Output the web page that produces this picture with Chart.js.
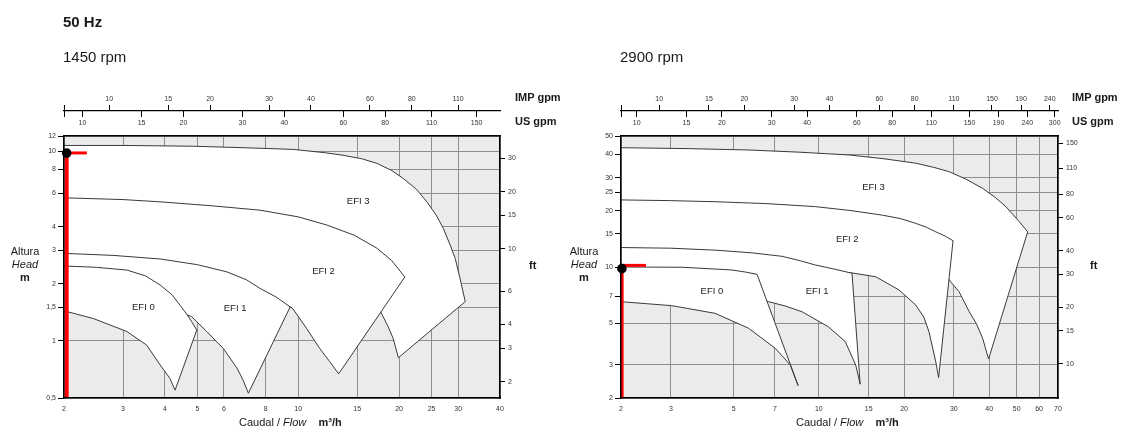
<!DOCTYPE html>
<html><head><meta charset="utf-8">
<script src="https://cdn.jsdelivr.net/npm/chart.js@4/dist/chart.umd.min.js"></script>
<style>
html,body{margin:0;padding:0;background:#fff;}
body{width:1122px;height:429px;position:relative;overflow:hidden;font-family:'Liberation Sans',Arial,sans-serif;color:#1a1a1a;}
canvas{position:absolute;top:0;}
#cL{left:0;} #cR{left:560px;}
.t{position:absolute;white-space:nowrap;line-height:1;}
.ax{position:absolute;width:50px;text-align:center;font-size:11px;line-height:13px;}
</style></head><body>
<canvas id="cL" width="560" height="429"></canvas>
<canvas id="cR" width="562" height="429"></canvas>

<div class="t" style="left:63px;top:14px;font-size:15px;font-weight:bold">50 Hz</div>
<div class="t" style="left:63px;top:49px;font-size:15px">1450 rpm</div>
<div class="t" style="left:620px;top:49px;font-size:15px">2900 rpm</div>

<div class="t" style="left:515px;top:92px;font-size:11px;font-weight:bold">IMP gpm</div>
<div class="t" style="left:515px;top:116px;font-size:11px;font-weight:bold">US gpm</div>
<div class="t" style="left:1072px;top:92px;font-size:11px;font-weight:bold">IMP gpm</div>
<div class="t" style="left:1072px;top:116px;font-size:11px;font-weight:bold">US gpm</div>

<div class="ax" style="left:0px;top:245px">Altura<br><i>Head</i><br><b>m</b></div>
<div class="ax" style="left:559px;top:245px">Altura<br><i>Head</i><br><b>m</b></div>

<div class="t" style="left:529px;top:260px;font-size:11px;font-weight:bold">ft</div>
<div class="t" style="left:1090px;top:260px;font-size:11px;font-weight:bold">ft</div>

<div class="t" style="left:239px;top:417px;font-size:11px">Caudal / <i>Flow</i>&nbsp;&nbsp;&nbsp; <b>m³/h</b></div>
<div class="t" style="left:796px;top:417px;font-size:11px">Caudal / <i>Flow</i>&nbsp;&nbsp;&nbsp; <b>m³/h</b></div>

<script>
// ---------- unit conversions ----------
const M3H_TO_USGPM = 4.4029;
const M3H_TO_IMPGPM = 3.6662;
const M_TO_FT = 3.28084;

// ---------- LEFT chart (1450 rpm) ----------
const L_X_RANGE = [2, 40];
const L_Y_RANGE = [0.5, 12];
const L_X_TICKS = [2, 3, 4, 5, 6, 8, 10, 15, 20, 25, 30, 40];
const L_Y_TICKS = [0.5, 1, 1.5, 2, 3, 4, 6, 8, 10, 12];
const L_Y_LABELS = ['0,5', '1', '1,5', '2', '3', '4', '6', '8', '10', '12'];
const L_FT_TICKS = [2, 3, 4, 6, 10, 15, 20, 30];
const L_IMP_TICKS = [10, 15, 20, 30, 40, 60, 80, 110];
const L_US_TICKS = [10, 15, 20, 30, 40, 60, 80, 110, 150];

const L_EFI0 = [[2,2.48],[2.5,2.44],[3.08,2.36],[3.5,2.2],[3.87,1.97],[4.2,1.75],[4.44,1.54],[4.65,1.38],[4.81,1.26],[4.98,1.14],
  [4.29,0.55],[4.14,0.635],[3.87,0.747],[3.53,0.95],[3.08,1.12],[2.45,1.31],[2,1.44],[2,2.48]];
const L_EFI1 = [[2,2.89],[2.8,2.82],[3.87,2.70],[5,2.52],[6.12,2.31],[7,2.1],[7.69,1.89],[8.6,1.7],[9.46,1.51],
  [7.10,0.53],[6.85,0.62],[6.56,0.72],[5.98,0.91],[5.33,1.12],[4.81,1.34],[4.44,1.42],[3.5,1.65],[2,1.85],[2,2.89]];
const L_EFI2 = [[2,5.67],[3,5.55],[3.87,5.40],[5.5,5.15],[7.69,4.88],[10,4.5],[12.2,4.07],[14.7,3.6],[17.2,3.07],[19,2.65],[20.8,2.17],
  [13.2,0.67],[12.4,0.78],[11.6,0.91],[10.6,1.16],[9.6,1.49],[8,1.75],[6,2.0],[4,2.3],[2,2.5],[2,5.67]];
const L_EFI3 = [[2,10.7],[3,10.7],[4.86,10.6],[7,10.4],[9.67,10.2],[12,9.8],[13.6,9.5],[15.5,9.1],[17.2,8.6],[19,7.9],[20.6,7.16],
  [22.5,6.3],[24.2,5.4],[25.8,4.6],[27.1,3.91],[28.4,3.2],[29.4,2.72],[30.4,2.13],[31.5,1.61],
  [19.9,0.815],[19.2,1.03],[18.5,1.2],[17.7,1.40],[16,2.0],[13,2.9],[10,3.6],[6,4.3],[2,4.8],[2,10.7]];
const L_EFI_NAMES = ['EFI 0', 'EFI 1', 'EFI 2', 'EFI 3'];
const L_EFI_LABEL_AT = [[3.45,1.51],[6.48,1.48],[11.9,2.31],[15.1,5.46]];
const L_RED_V = [[2.037,0.5],[2.037,9.7]];
const L_RED_H = [[2,9.77],[2.34,9.77]];
const L_DOT = [[2.037,9.75]];

// ---------- RIGHT chart (2900 rpm) ----------
const R_X_RANGE = [2, 70];
const R_Y_RANGE = [2, 50];
const R_X_TICKS = [2, 3, 5, 7, 10, 15, 20, 30, 40, 50, 60, 70];
const R_Y_TICKS = [2, 3, 5, 7, 10, 15, 20, 25, 30, 40, 50];
const R_Y_LABELS = ['2', '3', '5', '7', '10', '15', '20', '25', '30', '40', '50'];
const R_FT_TICKS = [10, 15, 20, 30, 40, 60, 80, 110, 150];
const R_IMP_TICKS = [10, 15, 20, 30, 40, 60, 80, 110, 150, 190, 240];
const R_US_TICKS = [10, 15, 20, 30, 40, 60, 80, 110, 150, 190, 240, 300];

const R_EFI0 = [[2,10.0],[3.28,9.97],[4.93,9.64],[5.5,9.4],[6.05,9.14],
  [8.45,2.33],[7.93,3.0],[7.02,3.68],[5.65,4.71],[4.30,5.66],[3.02,6.22],[2,6.53],[2,10.0]];
const R_EFI1 = [[2,12.7],[3,12.6],[4.30,12.3],[5.8,11.9],[7.42,11.4],[8.6,10.8],[9.72,10.25],[11.5,9.7],[13.1,9.26],
  [14.0,2.37],[13.5,3.0],[12.4,4.0],[10.8,4.80],[8.72,5.77],[7.6,6.2],[6.65,6.53],[5.5,7.0],[4,7.4],[2,7.8],[2,12.7]];
const R_EFI2 = [[2,22.8],[3,22.6],[4.30,22.3],[6.5,21.8],[9.72,21.0],[13,20.0],[16.8,18.9],[19.5,18.1],[22.0,17.1],[24,16.3],[25.9,15.4],[28,14.6],[29.8,13.8],
  [26.5,2.57],[25.9,3.12],[24.5,4.52],[23.5,5.4],[22.0,6.27],[19.2,7.54],[15.9,8.87],[13.1,9.3],[11,9.45],[9,9.8],[5,10.8],[2,11.3],[2,22.8]];
const R_EFI3 = [[2,43.3],[3.5,42.8],[5.65,42.1],[8.5,41],[12.8,39.6],[17,37.8],[22.0,35.8],[25.5,34],[28.8,32.3],[33,29.5],[37.9,26.3],[42,23.5],[45.8,21.0],[51.0,17.5],[54.7,15.4],
  [39.8,3.23],[37.9,4.17],[36,5.0],[34.0,5.77],[31.3,7.38],[29.2,8.35],[27,10],[22,13.5],[15,17],[8,19.5],[2,20.5],[2,43.3]];
const R_EFI_NAMES = ['EFI 0', 'EFI 1', 'EFI 2', 'EFI 3'];
const R_EFI_LABEL_AT = [[4.19,7.45],[9.86,7.38],[12.6,14.1],[15.6,26.5]];
const R_RED_V = [[2.01,2],[2.01,9.9]];
const R_RED_H = [[2,10.2],[2.45,10.2]];
const R_DOT = [[2.015,9.8]];

// ---------- styling ----------
const FONT = "'Liberation Sans', Arial, sans-serif";
Chart.defaults.font.family = FONT;
const TICK_FONT = {family: FONT, size: 7};
const TICK_COLOR = '#333';
const GRID = '#8e8e8e';
const CURVE = '#3a3a3a';
const RED = '#ff0000';

const pts = a => a.map(p => ({x: p[0], y: p[1]}));

const bgPlugin = {
  id: 'areaBg',
  beforeDraw(chart) {
    const {ctx, chartArea: a} = chart;
    ctx.save();
    ctx.fillStyle = '#ebebeb';
    ctx.fillRect(a.left, a.top, a.right - a.left, a.bottom - a.top);
    ctx.restore();
  }
};
const labelPlugin = {
  id: 'efiLabels',
  afterDatasetsDraw(chart, args, opts) {
    const {ctx} = chart;
    const xs = chart.scales.x, ys = chart.scales.y;
    ctx.save();
    ctx.font = '9.5px ' + FONT;
    ctx.fillStyle = '#222';
    ctx.textAlign = 'center';
    ctx.textBaseline = 'middle';
    opts.names.forEach((n, i) => {
      ctx.fillText(n, xs.getPixelForValue(opts.at[i][0]), ys.getPixelForValue(opts.at[i][1]));
    });
    ctx.restore();
  }
};

function setTicks(values, withMin) {
  return s => {
    const v = withMin ? [s.min].concat(values) : values;
    s.ticks = v.map(x => ({value: x}));
  };
}

function build(id, o) {
  const band = (d, ord) => ({data: pts(d), borderColor: CURVE, borderWidth: 1, backgroundColor: '#ffffff',
    fill: 'shape', pointRadius: 0, tension: 0, order: ord});
  return new Chart(document.getElementById(id), {
    type: 'line',
    data: {datasets: [
      {data: pts(o.dot), showLine: false, pointRadius: 4.8, pointBackgroundColor: '#000', pointBorderWidth: 0, clip: false, order: 0},
      {data: pts(o.redH), borderColor: RED, borderWidth: 3, pointRadius: 0, fill: false, order: 1},
      {data: pts(o.redV), borderColor: RED, borderWidth: 4, pointRadius: 0, fill: false, order: 1},
      band(o.efi[0], 2), band(o.efi[1], 3), band(o.efi[2], 4), band(o.efi[3], 5)
    ]},
    options: {
      responsive: false, animation: false, devicePixelRatio: 1,
      layout: {padding: o.pad},
      plugins: {legend: {display: false}, tooltip: {enabled: false},
        efiLabels: {names: o.names, at: o.labelAt}},
      scales: {
        x: {type: 'logarithmic', position: 'bottom', min: o.xr[0], max: o.xr[1], bounds: 'data',
          afterBuildTicks: setTicks(o.xt, false),
          afterFit: s => { s.height = 22; },
          ticks: {autoSkip: false, maxRotation: 0, font: TICK_FONT, color: TICK_COLOR, padding: 7,
            callback: (v, i) => String(o.xt[i])},
          grid: {color: GRID, lineWidth: 1, drawTicks: false},
          border: {display: true, color: '#000', width: 1.5, z: 1}},
        y: {type: 'logarithmic', position: 'left', min: o.yr[0], max: o.yr[1], bounds: 'data',
          afterBuildTicks: setTicks(o.yt, false),
          afterFit: s => { s.width = 30; },
          ticks: {autoSkip: false, font: TICK_FONT, color: TICK_COLOR, padding: 2,
            callback: (v, i) => o.yl[i]},
          grid: {color: GRID, lineWidth: 1, tickLength: 6, tickColor: '#000', tickWidth: 1},
          border: {display: true, color: '#000', width: 1.5, z: 1}},
        ft: {type: 'logarithmic', position: 'right', min: o.yr[0] * M_TO_FT, max: o.yr[1] * M_TO_FT, bounds: 'data',
          afterBuildTicks: setTicks(o.ft, false),
          afterFit: s => { s.width = 30; },
          ticks: {autoSkip: false, font: TICK_FONT, color: TICK_COLOR, padding: 3,
            callback: (v, i) => String(o.ft[i])},
          grid: {drawOnChartArea: false, tickLength: 5, tickColor: '#000', tickWidth: 1},
          border: {display: true, color: '#000', width: 1.5, z: 1}},
        us: {type: 'logarithmic', position: 'top', weight: 0,
          min: o.xr[0] * M3H_TO_USGPM, max: o.xr[1] * M3H_TO_USGPM, bounds: 'data',
          afterBuildTicks: setTicks(o.us, true),
          afterFit: s => { s.height = 25; },
          ticks: {autoSkip: false, maxRotation: 0, font: TICK_FONT, color: TICK_COLOR, padding: -16,
            callback: (v, i) => i === 0 ? '' : String(o.us[i - 1])},
          grid: {drawOnChartArea: false, tickLength: 25, tickColor: '#000', tickWidth: 1,
            tickBorderDash: [6, 60]},
          border: {display: true, color: '#000', width: 1.5, z: 1}},
        imp: {type: 'logarithmic', position: 'top', weight: 1,
          min: o.xr[0] * M3H_TO_IMPGPM, max: o.xr[1] * M3H_TO_IMPGPM, bounds: 'data',
          afterBuildTicks: setTicks(o.imp, true),
          afterFit: s => { s.height = 25; },
          ticks: {autoSkip: false, maxRotation: 0, font: TICK_FONT, color: TICK_COLOR, padding: 2,
            callback: (v, i) => i === 0 ? '' : String(o.imp[i - 1])},
          grid: {drawOnChartArea: false, tickLength: 6, tickColor: '#000', tickWidth: 1},
          border: {display: true, color: '#000', width: 1.2, z: 1}}
      }
    },
    plugins: [bgPlugin, labelPlugin]
  });
}

build('cL', {pad: {left: 34, right: 30, top: 86, bottom: 9},
  xr: L_X_RANGE, yr: L_Y_RANGE, xt: L_X_TICKS, yt: L_Y_TICKS, yl: L_Y_LABELS, ft: L_FT_TICKS,
  us: L_US_TICKS, imp: L_IMP_TICKS, efi: [L_EFI0, L_EFI1, L_EFI2, L_EFI3],
  names: L_EFI_NAMES, labelAt: L_EFI_LABEL_AT, redV: L_RED_V, redH: L_RED_H, dot: L_DOT});

build('cR', {pad: {left: 31, right: 34, top: 86, bottom: 9},
  xr: R_X_RANGE, yr: R_Y_RANGE, xt: R_X_TICKS, yt: R_Y_TICKS, yl: R_Y_LABELS, ft: R_FT_TICKS,
  us: R_US_TICKS, imp: R_IMP_TICKS, efi: [R_EFI0, R_EFI1, R_EFI2, R_EFI3],
  names: R_EFI_NAMES, labelAt: R_EFI_LABEL_AT, redV: R_RED_V, redH: R_RED_H, dot: R_DOT});
</script>
</body></html>
